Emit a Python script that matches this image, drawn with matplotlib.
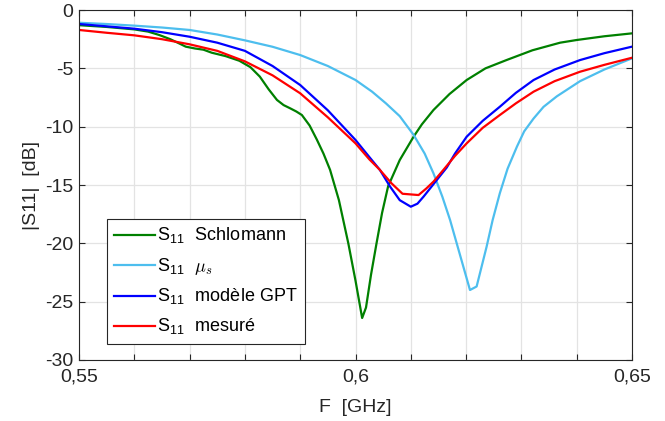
import numpy as np
import matplotlib
matplotlib.use("Agg")
import matplotlib.pyplot as plt

##################################################
## Data
##################################################
# S11 Schlomann
f_sch = [0.550, 0.555, 0.560, 0.5625, 0.5645, 0.5665, 0.5681, 0.5693, 0.5710,
         0.5725, 0.5740, 0.5765, 0.5790, 0.5810, 0.5827, 0.5843, 0.5858, 0.5870,
         0.5882, 0.5893, 0.5903, 0.5917, 0.5930, 0.5942, 0.5954, 0.5970, 0.5987,
         0.6000, 0.6012, 0.6019, 0.6028, 0.6038, 0.6048, 0.6059, 0.6080, 0.6105,
         0.6120, 0.6141, 0.6170, 0.6201, 0.6235, 0.6273, 0.6320, 0.6370, 0.6400,
         0.6450, 0.6500]
s_sch = [-1.30, -1.45, -1.66, -1.85, -2.14, -2.50, -2.86, -3.14, -3.30,
         -3.40, -3.66, -3.95, -4.35, -4.90, -5.71, -6.80, -7.71, -8.15,
         -8.43, -8.70, -9.00, -9.90, -11.10, -12.30, -13.70, -16.30, -20.00,
         -23.20, -26.40, -25.50, -22.70, -20.00, -17.40, -15.10, -12.86, -10.86,
         -9.80, -8.57, -7.20, -6.00, -5.00, -4.29, -3.45, -2.80, -2.57,
         -2.25, -2.00]

# S11 mu_s
f_mus = [0.550, 0.555, 0.560, 0.565, 0.570, 0.575, 0.580, 0.585, 0.590,
         0.595, 0.600, 0.603, 0.6055, 0.608, 0.6105, 0.6125, 0.6141, 0.6157,
         0.6171, 0.6183, 0.6195, 0.6207, 0.6219, 0.6228, 0.6237, 0.6248, 0.6261,
         0.6275, 0.6292, 0.6305, 0.6322, 0.6340, 0.6364, 0.6406, 0.6450, 0.6500]
s_mus = [-1.09, -1.20, -1.34, -1.50, -1.71, -2.10, -2.60, -3.15, -3.86,
         -4.80, -6.00, -7.00, -8.00, -9.10, -10.70, -12.30, -14.00, -16.00,
         -18.00, -20.00, -22.00, -24.00, -23.70, -22.00, -20.30, -18.00, -15.70,
         -13.60, -11.70, -10.40, -9.30, -8.30, -7.40, -6.10, -5.10, -4.14]

# S11 modele GPT
f_gpt = [0.550, 0.555, 0.560, 0.565, 0.570, 0.575, 0.580, 0.585, 0.590,
         0.595, 0.600, 0.6025, 0.6044, 0.6062, 0.6080, 0.6100, 0.6112, 0.6123,
         0.6147, 0.6165, 0.6180, 0.6201, 0.6230, 0.6261, 0.6290, 0.6322, 0.6360,
         0.6406, 0.6450, 0.6500]
s_gpt = [-1.20, -1.40, -1.60, -1.90, -2.29, -2.80, -3.50, -4.80, -6.43,
         -8.60, -11.14, -12.60, -13.70, -15.10, -16.30, -16.86, -16.60, -16.00,
         -14.57, -13.50, -12.30, -10.86, -9.50, -8.29, -7.10, -6.00, -5.10,
         -4.29, -3.70, -3.14]

# S11 mesure
f_mes = [0.550, 0.555, 0.560, 0.565, 0.570, 0.575, 0.580, 0.585, 0.590,
         0.595, 0.600, 0.6025, 0.6044, 0.6065, 0.6085, 0.6114, 0.6128, 0.6141,
         0.6159, 0.6180, 0.6201, 0.6230, 0.6261, 0.6290, 0.6322, 0.6360, 0.6406,
         0.6450, 0.6500]
s_mes = [-1.71, -1.95, -2.17, -2.50, -2.94, -3.50, -4.40, -5.60, -7.14,
         -9.20, -11.43, -12.80, -13.70, -14.85, -15.75, -15.86, -15.30, -14.71,
         -13.70, -12.50, -11.43, -10.10, -9.00, -8.00, -7.00, -6.10, -5.29,
         -4.70, -4.09]

x_ticks = np.round(np.arange(0.55, 0.6501, 0.01), 2)
x_labels = ["0,55" if t == 0.55 else "0,6" if t == 0.6 else "0,65" if t == 0.65 else "" for t in x_ticks]
y_ticks = [0, -5, -10, -15, -20, -25, -30]
y_labels = ["0", "-5", "-10", "-15", "-20", "-25", "-30"]

##################################################
## Plot
##################################################
plt.rcParams['font.family'] = ['Liberation Sans', 'DejaVu Sans']
plt.rcParams['mathtext.fontset'] = 'cm'

fig = plt.figure(figsize=(6.65, 4.21), dpi=100)
ax = fig.add_axes([0.1188, 0.1449, 0.8316, 0.8313])

lw = 1.6
ax.plot(f_sch, s_sch, color='#008000', lw=lw, label=r'S$_{\mathregular{11}}$  Schlomann')
ax.plot(f_mus, s_mus, color='#4DBEEE', lw=lw, label=r'S$_{\mathregular{11}}$  $\mu_s$')
ax.plot(f_gpt, s_gpt, color='#0000FF', lw=lw, label=r'S$_{\mathregular{11}}$  modèle GPT')
ax.plot(f_mes, s_mes, color='#FF0000', lw=lw, label=r'S$_{\mathregular{11}}$  mesuré')

ax.set_xlim(0.55, 0.65)
ax.set_ylim(-30, 0)
ax.set_xticks(x_ticks)
ax.set_xticklabels(x_labels)
ax.set_yticks(y_ticks)
ax.set_yticklabels(y_labels)
ax.tick_params(direction='in', top=True, right=True, length=4, width=0.8,
               labelsize=14, colors='#262626')
ax.tick_params(axis='x', pad=6)
ax.tick_params(axis='y', pad=4)
ax.grid(True, color='#e3e3e3', lw=0.9)
ax.set_axisbelow(True)
for sp in ax.spines.values():
    sp.set_color('#262626')
    sp.set_linewidth(0.8)

ax.set_xlabel("F  [GHz]", fontsize=14, color='#262626', labelpad=10)
ax.set_ylabel("|S11|  [dB]", fontsize=14, color='#262626', labelpad=4)

leg = ax.legend(loc='lower left', bbox_to_anchor=(0.05, 0.045), borderaxespad=0,
                fontsize=13, handlelength=2.3, handletextpad=0.1, labelspacing=0.55,
                borderpad=0.4, fancybox=False, framealpha=1, edgecolor='#262626')
leg.get_frame().set_linewidth(0.8)

fig.savefig("out.png", dpi=100)
